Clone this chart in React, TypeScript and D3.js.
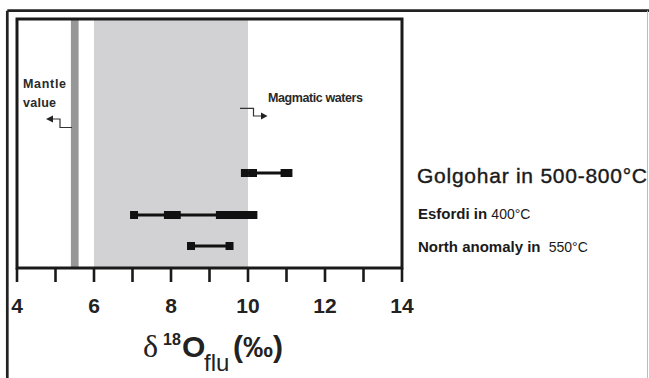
import React from "react";
import * as d3 from "d3";

// data
const categories = ["Golgohar", "Esfordi", "North anomaly"];
const golgoharValues = [9.92, 10.13, 10.95, 11.05];
const esfordiValues = [7.04, 7.92, 8.04, 8.15, 9.27, 9.45, 9.63, 9.81, 9.98, 10.14];
const northValues = [8.52, 9.52];
const seriesValues = [golgoharValues, esfordiValues, northValues];

const mantleRange = [5.4, 5.6];
const magmaticRange = [6, 10];
const tickValues = d3.range(4, 15, 1);
const tickLabels = [4, 6, 8, 10, 12, 14];

// layout
const W = 649;
const H = 378;
const plot = { left: 17, right: 402, top: 19, bottom: 268 };
const rowY = [173, 215, 246];
const font = "'Liberation Sans', Arial, sans-serif";

const App = () => {
  const x = d3.scaleLinear().domain([4, 14]).range([plot.left, plot.right]);
  const markW = 8;
  const markH = 8;

  return (
    <svg
      width={W}
      height={H}
      style={{ position: "absolute", left: 0, top: 0, background: "#fff" }}
      fontFamily={font}
    >
      <rect x={0} y={0} width={W} height={H} fill="#fff" />

      {/* outer frame */}
      <line x1={7.3} y1={10.7} x2={W} y2={10.7} stroke="#222" strokeWidth={2.7} />
      <line x1={7.3} y1={10.7} x2={7.3} y2={H} stroke="#222" strokeWidth={2.7} />
      <line x1={647.5} y1={10.7} x2={647.5} y2={H} stroke="#bbb" strokeWidth={1} />

      {/* reference bands */}
      <rect
        x={x(magmaticRange[0])}
        y={plot.top}
        width={x(magmaticRange[1]) - x(magmaticRange[0])}
        height={plot.bottom - plot.top}
        fill="#d2d2d4"
      />
      <rect
        x={x(mantleRange[0])}
        y={plot.top}
        width={x(mantleRange[1]) - x(mantleRange[0])}
        height={plot.bottom - plot.top}
        fill="#979797"
      />

      {/* annotations */}
      <g fill="#2a2a2a" fontWeight="bold" fontSize={12.5}>
        <text x={23} y={88} textLength={43}>Mantle</text>
        <text x={23} y={106.5} textLength={33}>value</text>
        <text x={268} y={102} textLength={95}>Magmatic waters</text>
      </g>
      <g stroke="#333" strokeWidth={1.2} fill="none">
        <path d="M72,127.5H60V119H52" />
        <path d="M240,108.3H253.5V116H262" />
      </g>
      <g fill="#222">
        <path d="M46,119L53,115.5L53,122.5Z" />
        <path d="M267.5,116L261,112.5L261,119.5Z" />
      </g>

      {/* series */}
      {seriesValues.map((vals, i) => {
        const [lo, hi] = d3.extent(vals) as [number, number];
        return (
          <g key={categories[i]}>
            <line x1={x(lo)} x2={x(hi)} y1={rowY[i]} y2={rowY[i]} stroke="#111" strokeWidth={3} />
            {vals.map((v, j) => (
              <rect
                key={j}
                x={x(v) - markW / 2}
                y={rowY[i] - markH / 2}
                width={markW}
                height={markH}
                fill="#111"
              />
            ))}
          </g>
        );
      })}

      {/* inner frame */}
      <rect
        x={plot.left}
        y={plot.top}
        width={plot.right - plot.left}
        height={plot.bottom - plot.top}
        fill="none"
        stroke="#1a1a1a"
        strokeWidth={3}
      />

      {/* x axis */}
      {tickValues.map((t) => (
        <line key={t} x1={x(t)} x2={x(t)} y1={plot.bottom} y2={282} stroke="#1a1a1a" strokeWidth={2.6} />
      ))}
      {tickLabels.map((t) => (
        <text
          key={t}
          x={x(t)}
          y={313}
          textAnchor="middle"
          fontSize={21}
          fontWeight="bold"
          fill="#222"
        >
          {t}
        </text>
      ))}

      {/* axis title */}
      <g fill="#222">
        <text x={143} y={357} fontSize={32} fontFamily="'Liberation Serif', serif">δ</text>
        <text x={163} y={345} fontSize={16} fontWeight="bold">18</text>
        <text x={182} y={357} fontSize={30} fontWeight="bold">O</text>
        <text x={204} y={371} fontSize={24}>flu</text>
        <text x={233} y={357} fontSize={30} fontWeight="bold">(‰)</text>
      </g>

      {/* right labels */}
      <g fill="#1a1a1a">
        <text x={417} y={183} fontSize={21} textLength={230} stroke="#1a1a1a" strokeWidth={0.4}>
          Golgohar in 500-800°C
        </text>
        <text x={418} y={219} fontSize={15} fontWeight="bold">
          Esfordi in <tspan fontWeight="normal" fontSize={14}>400°C</tspan>
        </text>
        <text x={418} y={252} fontSize={15} fontWeight="bold">
          North anomaly in <tspan fontWeight="normal" fontSize={14} dx={4}>550°C</tspan>
        </text>
      </g>
    </svg>
  );
};

export default App;
